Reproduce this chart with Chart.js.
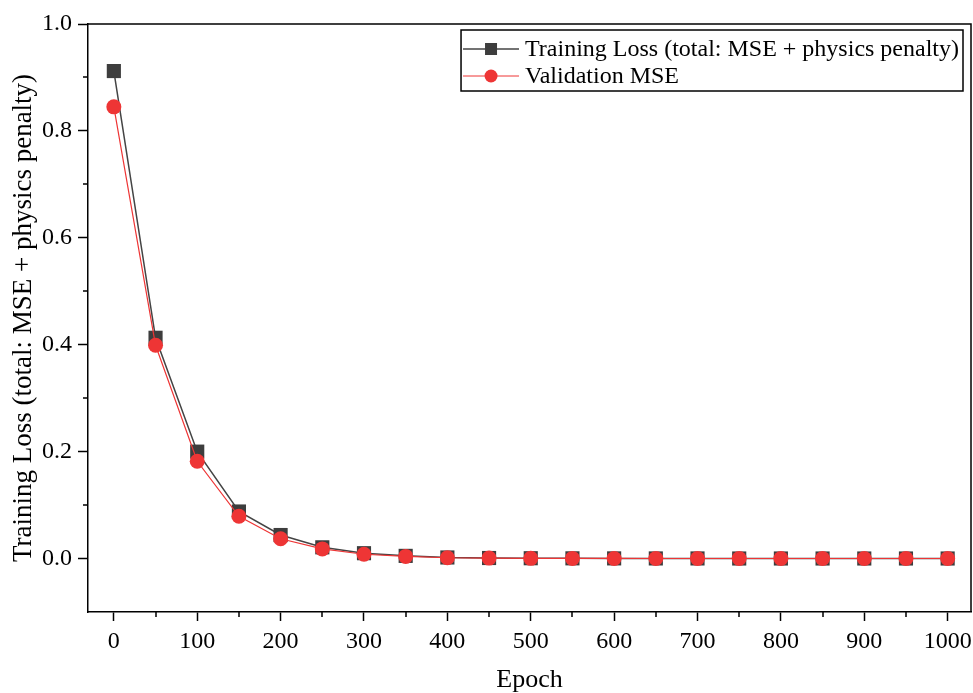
<!DOCTYPE html>
<html>
<head>
<meta charset="utf-8">
<script src="https://cdn.jsdelivr.net/npm/chart.js@4.4.1/dist/chart.umd.min.js"></script>
<style>
  body { margin: 0; background: #fff; }
  canvas { display: block; }
</style>
</head>
<body>
<canvas id="lossChart" width="973" height="693"></canvas>
<script>
var epochs = [0, 50, 100, 150, 200, 250, 300, 350, 400, 450, 500, 550, 600, 650, 700, 750, 800, 850, 900, 950, 1000];
var trainLoss = [0.912, 0.413, 0.200, 0.088, 0.044, 0.021, 0.010, 0.005, 0.002, 0.001, 0.0006, 0.0004, 0.0003, 0.0002, 0.0002, 0.0001, 0.0001, 0.0001, 0.0001, 0.0001, 0.0001];
var valMSE = [0.845, 0.399, 0.182, 0.079, 0.037, 0.018, 0.008, 0.004, 0.0015, 0.0008, 0.0004, 0.0003, 0.0002, 0.0001, 0.0001, 0.0001, 0.0001, 0.0001, 0.0001, 0.0001, 0.0001];

var xMajorTicks = [0, 100, 200, 300, 400, 500, 600, 700, 800, 900, 1000];
var xMinorTicks = [50, 150, 250, 350, 450, 550, 650, 750, 850, 950];
var yMajorTicks = [0.0, 0.2, 0.4, 0.6, 0.8, 1.0];
var yMinorTicks = [0.1, 0.3, 0.5, 0.7, 0.9];

var trainLabel = "Training Loss (total: MSE + physics penalty)";
var valLabel = "Validation MSE";
var yTitle = "Training Loss (total: MSE + physics penalty)";
var xTitle = "Epoch";

var grayCol = "#444444";
var grayFill = "#3d3d3d";
var redCol = "#ee3535";
var serif = "'Liberation Serif', 'Times New Roman', serif";

function toPoints(xs, ys) {
  var out = [];
  for (var i = 0; i < xs.length; i++) out.push({x: xs[i], y: ys[i]});
  return out;
}

// frame, minor ticks and boxed legend inside the plot
var extrasPlugin = {
  id: "extras",
  afterDraw: function(chart) {
    var ctx = chart.ctx;
    var a = chart.chartArea;
    var xs = chart.scales.x, ys = chart.scales.y;
    ctx.save();
    ctx.strokeStyle = "#000";
    ctx.lineWidth = 1.5;
    ctx.beginPath();
    ctx.moveTo(a.left, a.top); ctx.lineTo(a.right, a.top); ctx.lineTo(a.right, a.bottom);
    ctx.stroke();

    ctx.beginPath();
    xMinorTicks.forEach(function(v) {
      var px = Math.round(xs.getPixelForValue(v));
      ctx.moveTo(px, a.bottom); ctx.lineTo(px, a.bottom + 5);
    });
    yMinorTicks.forEach(function(v) {
      var py = Math.round(ys.getPixelForValue(v));
      ctx.moveTo(a.left, py); ctx.lineTo(a.left - 5, py);
    });
    ctx.stroke();

    // legend
    ctx.font = "24px " + serif;
    var tw = Math.max(ctx.measureText(trainLabel).width, ctx.measureText(valLabel).width);
    var right = a.right - 8, top = a.top + 6;
    var left = right - tw - 68, bottom = top + 61;
    ctx.lineWidth = 1.5;
    ctx.strokeStyle = "#000";
    ctx.strokeRect(left, top, right - left, bottom - top);

    var rows = [
      {label: trainLabel, col: grayCol, fill: grayFill, lw: 1.5, shape: "rect", y: top + 19},
      {label: valLabel, col: redCol, fill: redCol, lw: 1, shape: "circle", y: top + 46}
    ];
    rows.forEach(function(r) {
      ctx.strokeStyle = r.col;
      ctx.lineWidth = r.lw;
      ctx.beginPath();
      ctx.moveTo(left + 2, r.y); ctx.lineTo(left + 58, r.y);
      ctx.stroke();
      ctx.fillStyle = r.fill;
      var cx = left + 30;
      if (r.shape === "rect") {
        ctx.fillRect(cx - 6, r.y - 6, 12, 12);
      } else {
        ctx.beginPath(); ctx.arc(cx, r.y, 6.5, 0, Math.PI * 2); ctx.fill();
      }
      ctx.fillStyle = "#000";
      ctx.textAlign = "left";
      ctx.textBaseline = "middle";
      ctx.fillText(r.label, left + 64, r.y + 1);
    });
    ctx.restore();
  }
};

var ctx = document.getElementById("lossChart").getContext("2d");
var lossChart = new Chart(ctx, {
  type: "line",
  data: {
    datasets: [{
      label: trainLabel,
      data: toPoints(epochs, trainLoss),
      borderColor: grayCol,
      backgroundColor: grayFill,
      borderWidth: 1.5,
      pointStyle: "rect",
      pointRadius: 10,
      pointBorderWidth: 0,
      pointBackgroundColor: grayFill,
      order: 1,
      fill: false
    }, {
      label: valLabel,
      data: toPoints(epochs, valMSE),
      borderColor: redCol,
      backgroundColor: redCol,
      borderWidth: 1.2,
      pointStyle: "circle",
      pointRadius: 7.5,
      pointBorderWidth: 0,
      pointBackgroundColor: redCol,
      order: 0,
      fill: false
    }]
  },
  options: {
    responsive: false,
    animation: false,
    devicePixelRatio: 1,
    layout: { autoPadding: false, padding: { top: 24, right: 2, left: 0, bottom: 0 } },
    plugins: { legend: { display: false }, tooltip: { enabled: false } },
    scales: {
      x: {
        type: "linear",
        min: -31,
        max: 1028,
        afterBuildTicks: function(scale) {
          scale.ticks = xMajorTicks.map(function(v) { return {value: v}; });
        },
        afterFit: function(scale) {
          scale.height = 81;
          scale.paddingLeft = 0;
          scale.paddingRight = 0;
        },
        grid: { drawOnChartArea: false, tickLength: 9, tickColor: "#000", tickWidth: 1.5 },
        border: { color: "#000", width: 1.5 },
        ticks: {
          autoSkip: false, maxRotation: 0, color: "#000", padding: 6,
          font: { family: serif, size: 24 },
          callback: function(v) { return String(v); }
        },
        title: {
          display: true, text: xTitle, color: "#000",
          font: { family: serif, size: 26, lineHeight: 1 },
          padding: { top: 0, bottom: 0 }
        }
      },
      y: {
        min: -0.1,
        max: 1.0,
        afterBuildTicks: function(scale) {
          scale.ticks = yMajorTicks.map(function(v) { return {value: v}; });
        },
        afterFit: function(scale) {
          scale.width = 88;
          scale.paddingTop = 0;
          scale.paddingBottom = 0;
        },
        grid: { drawOnChartArea: false, tickLength: 10, tickColor: "#000", tickWidth: 1.5 },
        border: { color: "#000", width: 1.5 },
        ticks: {
          autoSkip: false, color: "#000", padding: 6,
          font: { family: serif, size: 24 },
          callback: function(v) { return Number(v).toFixed(1); }
        },
        title: {
          display: true, text: yTitle, color: "#000",
          font: { family: serif, size: 27 },
          padding: { top: 8, bottom: 0 }
        }
      }
    }
  },
  plugins: [extrasPlugin]
});
</script>
</body>
</html>
